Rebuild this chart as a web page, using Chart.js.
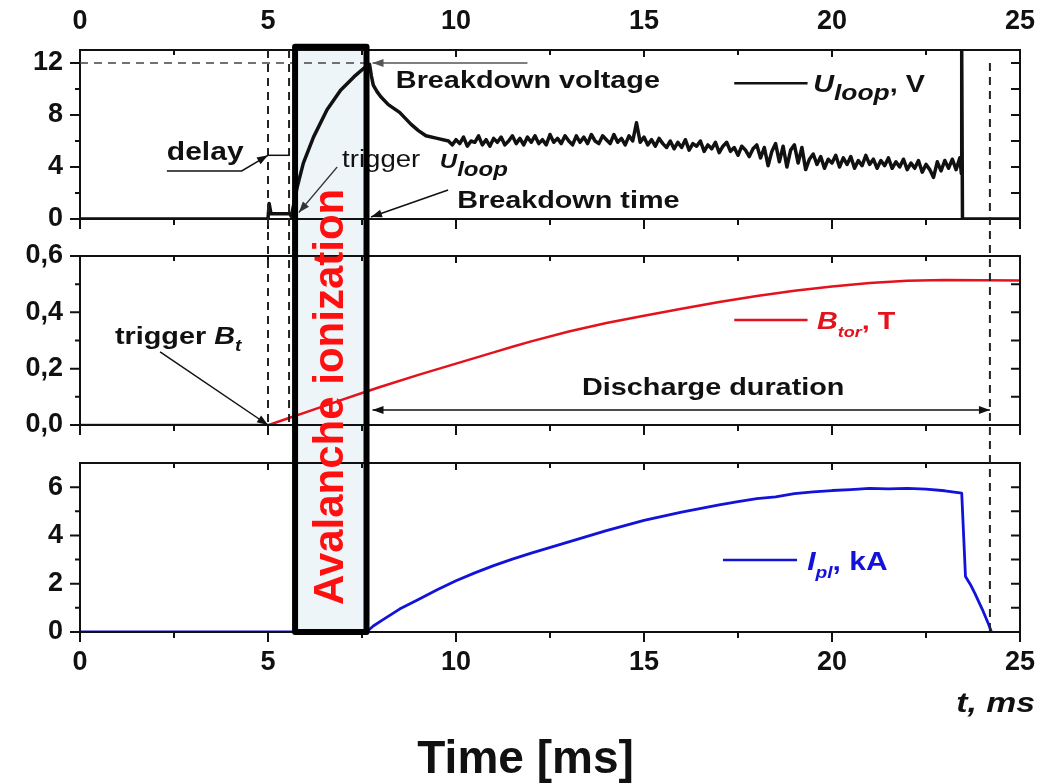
<!DOCTYPE html>
<html lang="en">
<head>
<meta charset="UTF-8">
<title>Loop voltage, toroidal field and plasma current</title>
<script src="https://cdn.jsdelivr.net/npm/chart.js"></script>
<style>
  html, body { margin: 0; padding: 0; background: #fff; }
  #wrap { position: relative; width: 1058px; height: 783px; }
</style>
</head>
<body>
<div id="wrap"><canvas id="shot" width="1058" height="783"></canvas></div>
<script>
// time axis, ms
const xTicks = [0, 5, 10, 15, 20, 25];
const xMinor = [2.5, 7.5, 12.5, 17.5, 22.5];

// loop voltage, V
const uTicks = [0, 4, 8, 12];
const uMinor = [2, 6, 10];
const uTime = [0, 5.0, 5.03, 5.08, 5.58, 5.62, 5.78, 5.94, 6.21, 6.57,
  6.93, 7.29, 7.65, 7.7, 7.75, 7.8, 7.9, 8.0, 8.2, 8.5,
  8.8, 9.0, 9.2, 9.5,
  9.8, 9.9, 10.0, 10.1, 10.2, 10.3, 10.4, 10.5, 10.6, 10.7,
  10.8, 10.9, 11.0, 11.1, 11.2, 11.3, 11.4, 11.5, 11.6, 11.7,
  11.8, 11.9, 12.0, 12.1, 12.2, 12.3, 12.4, 12.5, 12.6, 12.7,
  12.8, 12.9, 13.0, 13.1, 13.2, 13.3, 13.4, 13.5, 13.6, 13.7,
  13.8, 13.9, 14.0, 14.1, 14.2, 14.3, 14.4, 14.5, 14.6, 14.7,
  14.8, 14.9, 15.0, 15.1, 15.2, 15.3, 15.4, 15.5, 15.6, 15.7,
  15.8, 15.9, 16.0, 16.1, 16.2, 16.3, 16.4, 16.5, 16.6, 16.7,
  16.8, 16.9, 17.0, 17.1, 17.2, 17.3, 17.4, 17.5, 17.6, 17.7,
  17.8, 17.9, 18.0, 18.1, 18.2, 18.3, 18.4, 18.5, 18.6, 18.7,
  18.8, 18.9, 19.0, 19.1, 19.2, 19.3, 19.4, 19.5, 19.6, 19.7,
  19.8, 19.9, 20.0, 20.1, 20.2, 20.3, 20.4, 20.5, 20.6, 20.7,
  20.8, 20.9, 21.0, 21.1, 21.2, 21.3, 21.4, 21.5, 21.6, 21.7,
  21.8, 21.9, 22.0, 22.1, 22.2, 22.3, 22.4, 22.5, 22.6, 22.7,
  22.8, 22.9, 23.0, 23.1, 23.2, 23.3, 23.4,
  23.44, 23.45, 23.47, 25];
const uLoop = [0, 0, 1.2, 0.4, 0.4, 0.2, 2.5, 4.3, 6.3, 8.4,
  9.9, 10.95, 11.85, 11.9, 11.0, 10.3, 9.8, 9.4, 8.8, 8.2,
  7.3, 6.8, 6.4, 6.2,
  6.0, 5.7, 6.1, 5.8, 6.3, 5.6, 6.0, 5.9, 6.4, 5.7,
  6.1, 5.6, 6.2, 5.9, 6.3, 5.7, 6.0, 6.4, 5.8, 6.2,
  5.7, 6.3, 5.9, 6.4, 5.8, 6.1, 5.7, 6.5, 5.9, 6.2,
  5.8, 6.4, 6.0, 5.7, 6.4, 5.9, 6.3, 5.8, 6.5, 6.0,
  5.8, 6.4, 6.1, 5.8, 6.5, 5.9, 6.2, 5.7, 6.4, 6.0,
  7.4, 5.9, 6.3, 5.7, 6.1, 5.6, 6.2, 5.8, 5.5, 6.0,
  5.4, 5.9, 5.5, 6.1, 5.3, 5.8, 5.6, 6.0, 5.2, 5.7,
  5.4, 5.9, 5.1, 5.6, 5.9, 5.2, 5.5, 4.9, 5.6, 5.3,
  4.8, 5.4, 5.7, 4.7, 5.5, 4.1, 5.2, 5.8, 4.4, 5.6,
  4.0, 5.3, 5.7, 4.3, 5.5, 3.8, 4.6, 5.0, 4.2, 4.8,
  3.9, 4.6, 4.3, 4.9, 4.0, 4.7, 4.2, 4.8, 3.9, 4.5,
  4.1, 4.9, 4.2, 4.6, 3.9, 4.5, 4.1, 4.7, 3.9, 4.4,
  4.0, 4.6, 3.8, 4.3, 3.9, 4.5, 3.6, 4.2, 3.8, 3.2,
  4.4, 3.7, 4.5, 3.9, 4.6, 3.8, 4.7,
  3.5, 13, 0, 0];

// toroidal field, T
const bTicks = [0, 0.2, 0.4, 0.6];
const bMinor = [0.1, 0.3, 0.5];
const bTime = [0, 5.02, 5.5, 6, 6.5, 7, 7.6, 8, 9, 10, 11, 11.5, 12, 13,
  14, 15, 16, 17, 18, 19, 20, 21, 22, 23, 24, 25];
const bTor = [0, 0, 0.022, 0.045, 0.068, 0.091, 0.118, 0.136, 0.178, 0.218, 0.258, 0.278, 0.297, 0.332,
  0.362, 0.388, 0.413, 0.437, 0.458, 0.477, 0.492, 0.504, 0.512, 0.515, 0.514, 0.513];

// plasma current, kA
const iTicks = [0, 2, 4, 6];
const iMinor = [1, 3, 5];
const iTime = [0, 7.62, 7.8, 8.05, 8.5, 9, 9.5, 10, 10.5, 11,
  11.5, 12, 13, 14, 15, 16, 17, 17.5, 18, 18.5,
  19, 19.5, 20, 20.5, 21, 21.5, 22, 22.5, 23, 23.45,
  23.55, 23.68, 23.8, 24, 24.17, 24.24];
const iPl = [0, 0, 0.25, 0.5, 0.95, 1.35, 1.75, 2.12, 2.45, 2.75,
  3.02, 3.27, 3.73, 4.2, 4.62, 4.97, 5.27, 5.4, 5.52, 5.6,
  5.73, 5.8, 5.86, 5.9, 5.95, 5.93, 5.95, 5.92, 5.85, 5.75,
  2.3, 1.97, 1.6, 0.93, 0.3, 0];

const FAMILY = 'Liberation Sans, Arial, Helvetica, sans-serif';
const RED = '#e3121c';
const BLUE = '#1212d8';
const INK = '#111';

// annotation layout (data units of the panel named in "axis")
const avalanche = { from: 5.72, to: 7.62, top: 13.25, textX: 7.0, textY: 0.1 };
const guides = { trigB: 5.0, trigU: 5.56, end: 24.2, uBreak: 12, tBreak: 7.7 };
const arrows = [
  { axis: 'yU', pts: [[11.9, 12], [7.78, 12]], w: 1.5, color: '#555' },
  { axis: 'yU', pts: [[9.79, 2.23], [7.74, 0.15]], w: 1.5 },
  { axis: 'yU', pts: [[6.84, 4.0], [5.82, 0.5]], w: 1.2, color: '#333' },
  { axis: 'yU', pts: [[2.31, 3.7], [4.3, 3.7], [5.0, 4.9]], w: 1.5 },
  { axis: 'yB', pts: [[2.13, 0.26], [5.0, 0.0]], w: 1.5 },
  { axis: 'yB', pts: [[7.78, 0.053], [24.2, 0.053]], w: 1.5, both: true }
];
const notes = [
  { axis: 'yU', x: 8.4, y: 10.08, parts: [['Breakdown voltage', 'bold 24px']] },
  { axis: 'yU', x: 10.03, y: 0.85, parts: [['Breakdown time', 'bold 24px']] },
  { axis: 'yU', x: 2.31, y: 4.54, parts: [['delay', 'bold 25px']] },
  { axis: 'yU', x: 6.97, y: 4.0, parts: [['trigger', '23px']] },
  { axis: 'yU', x: 9.57, y: 3.9, parts: [['U', 'italic bold 20px'], ['loop', 'italic bold 20px', 8]] },
  { axis: 'yB', x: 0.93, y: 0.288, parts: [['trigger ', 'bold 24px'], ['B', 'italic bold 24px'], ['t', 'italic bold 16px', 7]] },
  { axis: 'yB', x: 13.35, y: 0.106, parts: [['Discharge duration', 'bold 24px']] }
];
const legends = [
  { axis: 'yU', x1: 17.4, x2: 19.35, y: 10.45, tx: 19.5, ty: 9.8, color: INK,
    parts: [['U', 'italic bold 24px'], ['loop', 'italic bold 22px', 8], [', V', 'bold 24px']] },
  { axis: 'yB', x1: 17.4, x2: 19.35, y: 0.373, tx: 19.6, ty: 0.341, color: RED,
    parts: [['B', 'italic bold 24px'], ['tor', 'italic bold 15px', 8], [', T', 'bold 24px']] },
  { axis: 'yI', x1: 17.1, x2: 19.07, y: 2.98, tx: 19.34, ty: 2.56, color: BLUE,
    parts: [['I', 'italic bold 25px'], ['pl', 'italic bold 16px', 8], [', kA', 'bold 25px']] }
];
const panels = [
  { id: 'yU', major: uTicks, minor: uMinor },
  { id: 'yB', major: bTicks, minor: bMinor },
  { id: 'yI', major: iTicks, minor: iMinor }
];

function rich(ctx, x, y, parts, color, sx, align) {
  ctx.save();
  ctx.fillStyle = color;
  ctx.textBaseline = 'alphabetic';
  ctx.textAlign = 'left';
  let total = 0;
  for (const p of parts) { ctx.font = p[1] + ' ' + FAMILY; total += ctx.measureText(p[0]).width; }
  ctx.translate(align === 'right' ? x - total * sx : align === 'center' ? x - total * sx / 2 : x, y);
  ctx.scale(sx, 1);
  let cx = 0;
  for (const p of parts) {
    ctx.font = p[1] + ' ' + FAMILY;
    ctx.fillText(p[0], cx, p[2] || 0);
    cx += ctx.measureText(p[0]).width;
  }
  ctx.restore();
}

function head(ctx, x0, y0, x1, y1) {
  const a = Math.atan2(y1 - y0, x1 - x0);
  ctx.beginPath();
  ctx.moveTo(x1, y1);
  ctx.lineTo(x1 - 11 * Math.cos(a) + 4 * Math.sin(a), y1 - 11 * Math.sin(a) - 4 * Math.cos(a));
  ctx.lineTo(x1 - 11 * Math.cos(a) - 4 * Math.sin(a), y1 - 11 * Math.sin(a) + 4 * Math.cos(a));
  ctx.closePath();
  ctx.fill();
}

function vdash(ctx, x, y0, y1) {
  ctx.beginPath();
  ctx.moveTo(x, y0);
  ctx.lineTo(x, y1);
  ctx.stroke();
}

const notePlugin = {
  id: 'notes',
  beforeDatasetsDraw(chart) {
    const { ctx, scales } = chart;
    const l = scales.x.getPixelForValue(avalanche.from);
    const r = scales.x.getPixelForValue(avalanche.to);
    const t = scales.yU.getPixelForValue(avalanche.top);
    const b = scales.yI.getPixelForValue(0);
    ctx.save();
    ctx.fillStyle = '#eef5f8';
    ctx.fillRect(l, t, r - l, b - t);
    ctx.restore();
  },
  afterDatasetsDraw(chart) {
    const { ctx, chartArea: a, scales } = chart;
    const X = v => scales.x.getPixelForValue(v);
    ctx.save();

    // panel frames with ticks
    ctx.strokeStyle = INK;
    ctx.lineWidth = 2;
    for (const p of panels) {
      const s = scales[p.id];
      ctx.strokeRect(a.left, s.top, a.right - a.left, s.bottom - s.top);
      ctx.beginPath();
      for (const v of p.major) {
        const y = s.getPixelForValue(v);
        ctx.moveTo(a.left - 10, y); ctx.lineTo(a.left, y);
        ctx.moveTo(a.right, y); ctx.lineTo(a.right - 9, y);
      }
      for (const v of p.minor) {
        const y = s.getPixelForValue(v);
        ctx.moveTo(a.left - 5, y); ctx.lineTo(a.left, y);
        ctx.moveTo(a.right, y); ctx.lineTo(a.right - 9, y);
      }
      for (const v of xTicks) {
        const x = X(v);
        ctx.moveTo(x, s.top); ctx.lineTo(x, s.top + 7);
        ctx.moveTo(x, s.bottom); ctx.lineTo(x, s.bottom + 10);
      }
      for (const v of xMinor) {
        const x = X(v);
        ctx.moveTo(x, s.top); ctx.lineTo(x, s.top + 5);
        ctx.moveTo(x, s.bottom); ctx.lineTo(x, s.bottom + 6);
      }
      ctx.stroke();
    }

    // dashed guides
    ctx.setLineDash([8, 6]);
    ctx.lineWidth = 2;
    ctx.strokeStyle = '#222';
    vdash(ctx, X(guides.trigB), scales.yU.top, scales.yB.getPixelForValue(0));
    vdash(ctx, X(guides.trigU), scales.yU.top, scales.yB.getPixelForValue(0));
    vdash(ctx, X(guides.end), scales.yU.getPixelForValue(guides.uBreak), scales.yI.getPixelForValue(0));
    ctx.lineWidth = 1.5;
    ctx.strokeStyle = '#444';
    ctx.beginPath();
    ctx.moveTo(X(0), scales.yU.getPixelForValue(guides.uBreak));
    ctx.lineTo(X(guides.tBreak), scales.yU.getPixelForValue(guides.uBreak));
    ctx.stroke();
    ctx.setLineDash([]);

    // arrows
    for (const ar of arrows) {
      const s = scales[ar.axis];
      const pts = ar.pts.map(p => [X(p[0]), s.getPixelForValue(p[1])]);
      ctx.strokeStyle = ctx.fillStyle = ar.color || INK;
      ctx.lineWidth = ar.w;
      ctx.beginPath();
      pts.forEach((p, i) => i ? ctx.lineTo(p[0], p[1]) : ctx.moveTo(p[0], p[1]));
      ctx.stroke();
      const n = pts.length;
      head(ctx, pts[n - 2][0], pts[n - 2][1], pts[n - 1][0], pts[n - 1][1]);
      if (ar.both) head(ctx, pts[1][0], pts[1][1], pts[0][0], pts[0][1]);
    }
    // delay tail between the two triggers
    ctx.strokeStyle = INK;
    ctx.lineWidth = 1.5;
    ctx.beginPath();
    ctx.moveTo(X(guides.trigB), scales.yU.getPixelForValue(4.9));
    ctx.lineTo(X(guides.trigU), scales.yU.getPixelForValue(4.9));
    ctx.stroke();

    // texts
    for (const n of notes) {
      rich(ctx, X(n.x), scales[n.axis].getPixelForValue(n.y), n.parts, INK, 1.2);
    }
    for (const lg of legends) {
      const s = scales[lg.axis];
      ctx.strokeStyle = lg.color;
      ctx.lineWidth = 2.5;
      ctx.beginPath();
      ctx.moveTo(X(lg.x1), s.getPixelForValue(lg.y));
      ctx.lineTo(X(lg.x2), s.getPixelForValue(lg.y));
      ctx.stroke();
      rich(ctx, X(lg.tx), s.getPixelForValue(lg.ty), lg.parts, lg.color, 1.2);
    }

    // avalanche box
    const l = X(avalanche.from), r = X(avalanche.to);
    const t = scales.yU.getPixelForValue(avalanche.top);
    const b = scales.yI.getPixelForValue(0);
    ctx.strokeStyle = '#000';
    ctx.lineWidth = 6;
    ctx.lineJoin = 'round';
    ctx.strokeRect(l, t, r - l, b - t);
    ctx.save();
    ctx.translate(X(avalanche.textX), scales.yB.getPixelForValue(avalanche.textY));
    ctx.rotate(-Math.PI / 2);
    ctx.fillStyle = '#ff1010';
    ctx.font = 'bold 42px ' + FAMILY;
    ctx.textAlign = 'center';
    ctx.textBaseline = 'alphabetic';
    ctx.fillText('Avalanche ionization', 0, 0);
    ctx.restore();

    // axis captions
    rich(ctx, a.right + 15, scales.x.top + 80, [['t, ms', 'italic bold 27px']], INK, 1.25, 'right');
    rich(ctx, X(11.85), chart.height - 10, [['Time [ms]', 'bold 46px']], INK, 1, 'center');
    ctx.restore();
  }
};

Chart.defaults.font.family = FAMILY;
Chart.defaults.color = INK;

const tickFont = { family: FAMILY, size: 27, weight: 'bold' };
const hidden = { display: false, drawTicks: false };

function yAxis(ticks, max, weight, h, fmt) {
  return {
    type: 'linear', position: 'left', stack: 'panels', stackWeight: h, weight: weight,
    min: 0, max: max,
    grid: hidden, border: { display: false },
    ticks: { font: tickFont, padding: 17, color: INK, callback: fmt },
    afterBuildTicks: s => { s.ticks = ticks.map(v => ({ value: v })); },
    afterFit: s => { s.width = 80; }
  };
}
function gapAxis(weight, h) {
  return {
    type: 'linear', position: 'left', stack: 'panels', stackWeight: h, weight: weight,
    min: 0, max: 1,
    grid: hidden, border: { display: false }, ticks: { display: false }
  };
}

const ctx = document.getElementById('shot').getContext('2d');
new Chart(ctx, {
  type: 'line',
  data: {
    datasets: [
      { label: 'U_loop, V', yAxisID: 'yU', xAxisID: 'x', borderColor: INK, borderWidth: 3.5,
        data: uTime.map((t, i) => ({ x: t, y: uLoop[i] })) },
      { label: 'B_tor, T', yAxisID: 'yB', xAxisID: 'x', borderColor: RED, borderWidth: 2.5,
        data: bTime.map((t, i) => ({ x: t, y: bTor[i] })) },
      { label: 'I_pl, kA', yAxisID: 'yI', xAxisID: 'x', borderColor: BLUE, borderWidth: 2.8,
        data: iTime.map((t, i) => ({ x: t, y: iPl[i] })) }
    ]
  },
  options: {
    responsive: false,
    animation: false,
    devicePixelRatio: 1,
    layout: { padding: { left: 0, right: 38, top: 0, bottom: 0 } },
    elements: { point: { radius: 0 }, line: { tension: 0, borderJoinStyle: 'round' } },
    plugins: { legend: { display: false }, tooltip: { enabled: false } },
    scales: {
      x: {
        type: 'linear', position: 'bottom', min: 0, max: 25,
        grid: hidden, border: { display: false },
        ticks: { font: tickFont, padding: 14, color: INK, maxRotation: 0, autoSkip: false },
        afterBuildTicks: s => { s.ticks = xTicks.map(v => ({ value: v })); },
        afterFit: s => { s.height = 151; }
      },
      x2: {
        type: 'linear', position: 'top', min: 0, max: 25,
        grid: hidden, border: { display: false },
        ticks: { font: tickFont, padding: 12, color: INK, maxRotation: 0, autoSkip: false },
        afterBuildTicks: s => { s.ticks = xTicks.map(v => ({ value: v })); },
        afterFit: s => { s.height = 50; }
      },
      yU: yAxis(uTicks, 13, 5, 169, v => v),
      yGap1: gapAxis(4, 37),
      yB: yAxis(bTicks, 0.6, 3, 169, v => v.toFixed(1).replace('.', ',')),
      yGap2: gapAxis(2, 38),
      yI: yAxis(iTicks, 7, 1, 169, v => v)
    }
  },
  plugins: [notePlugin]
});
</script>
</body>
</html>
